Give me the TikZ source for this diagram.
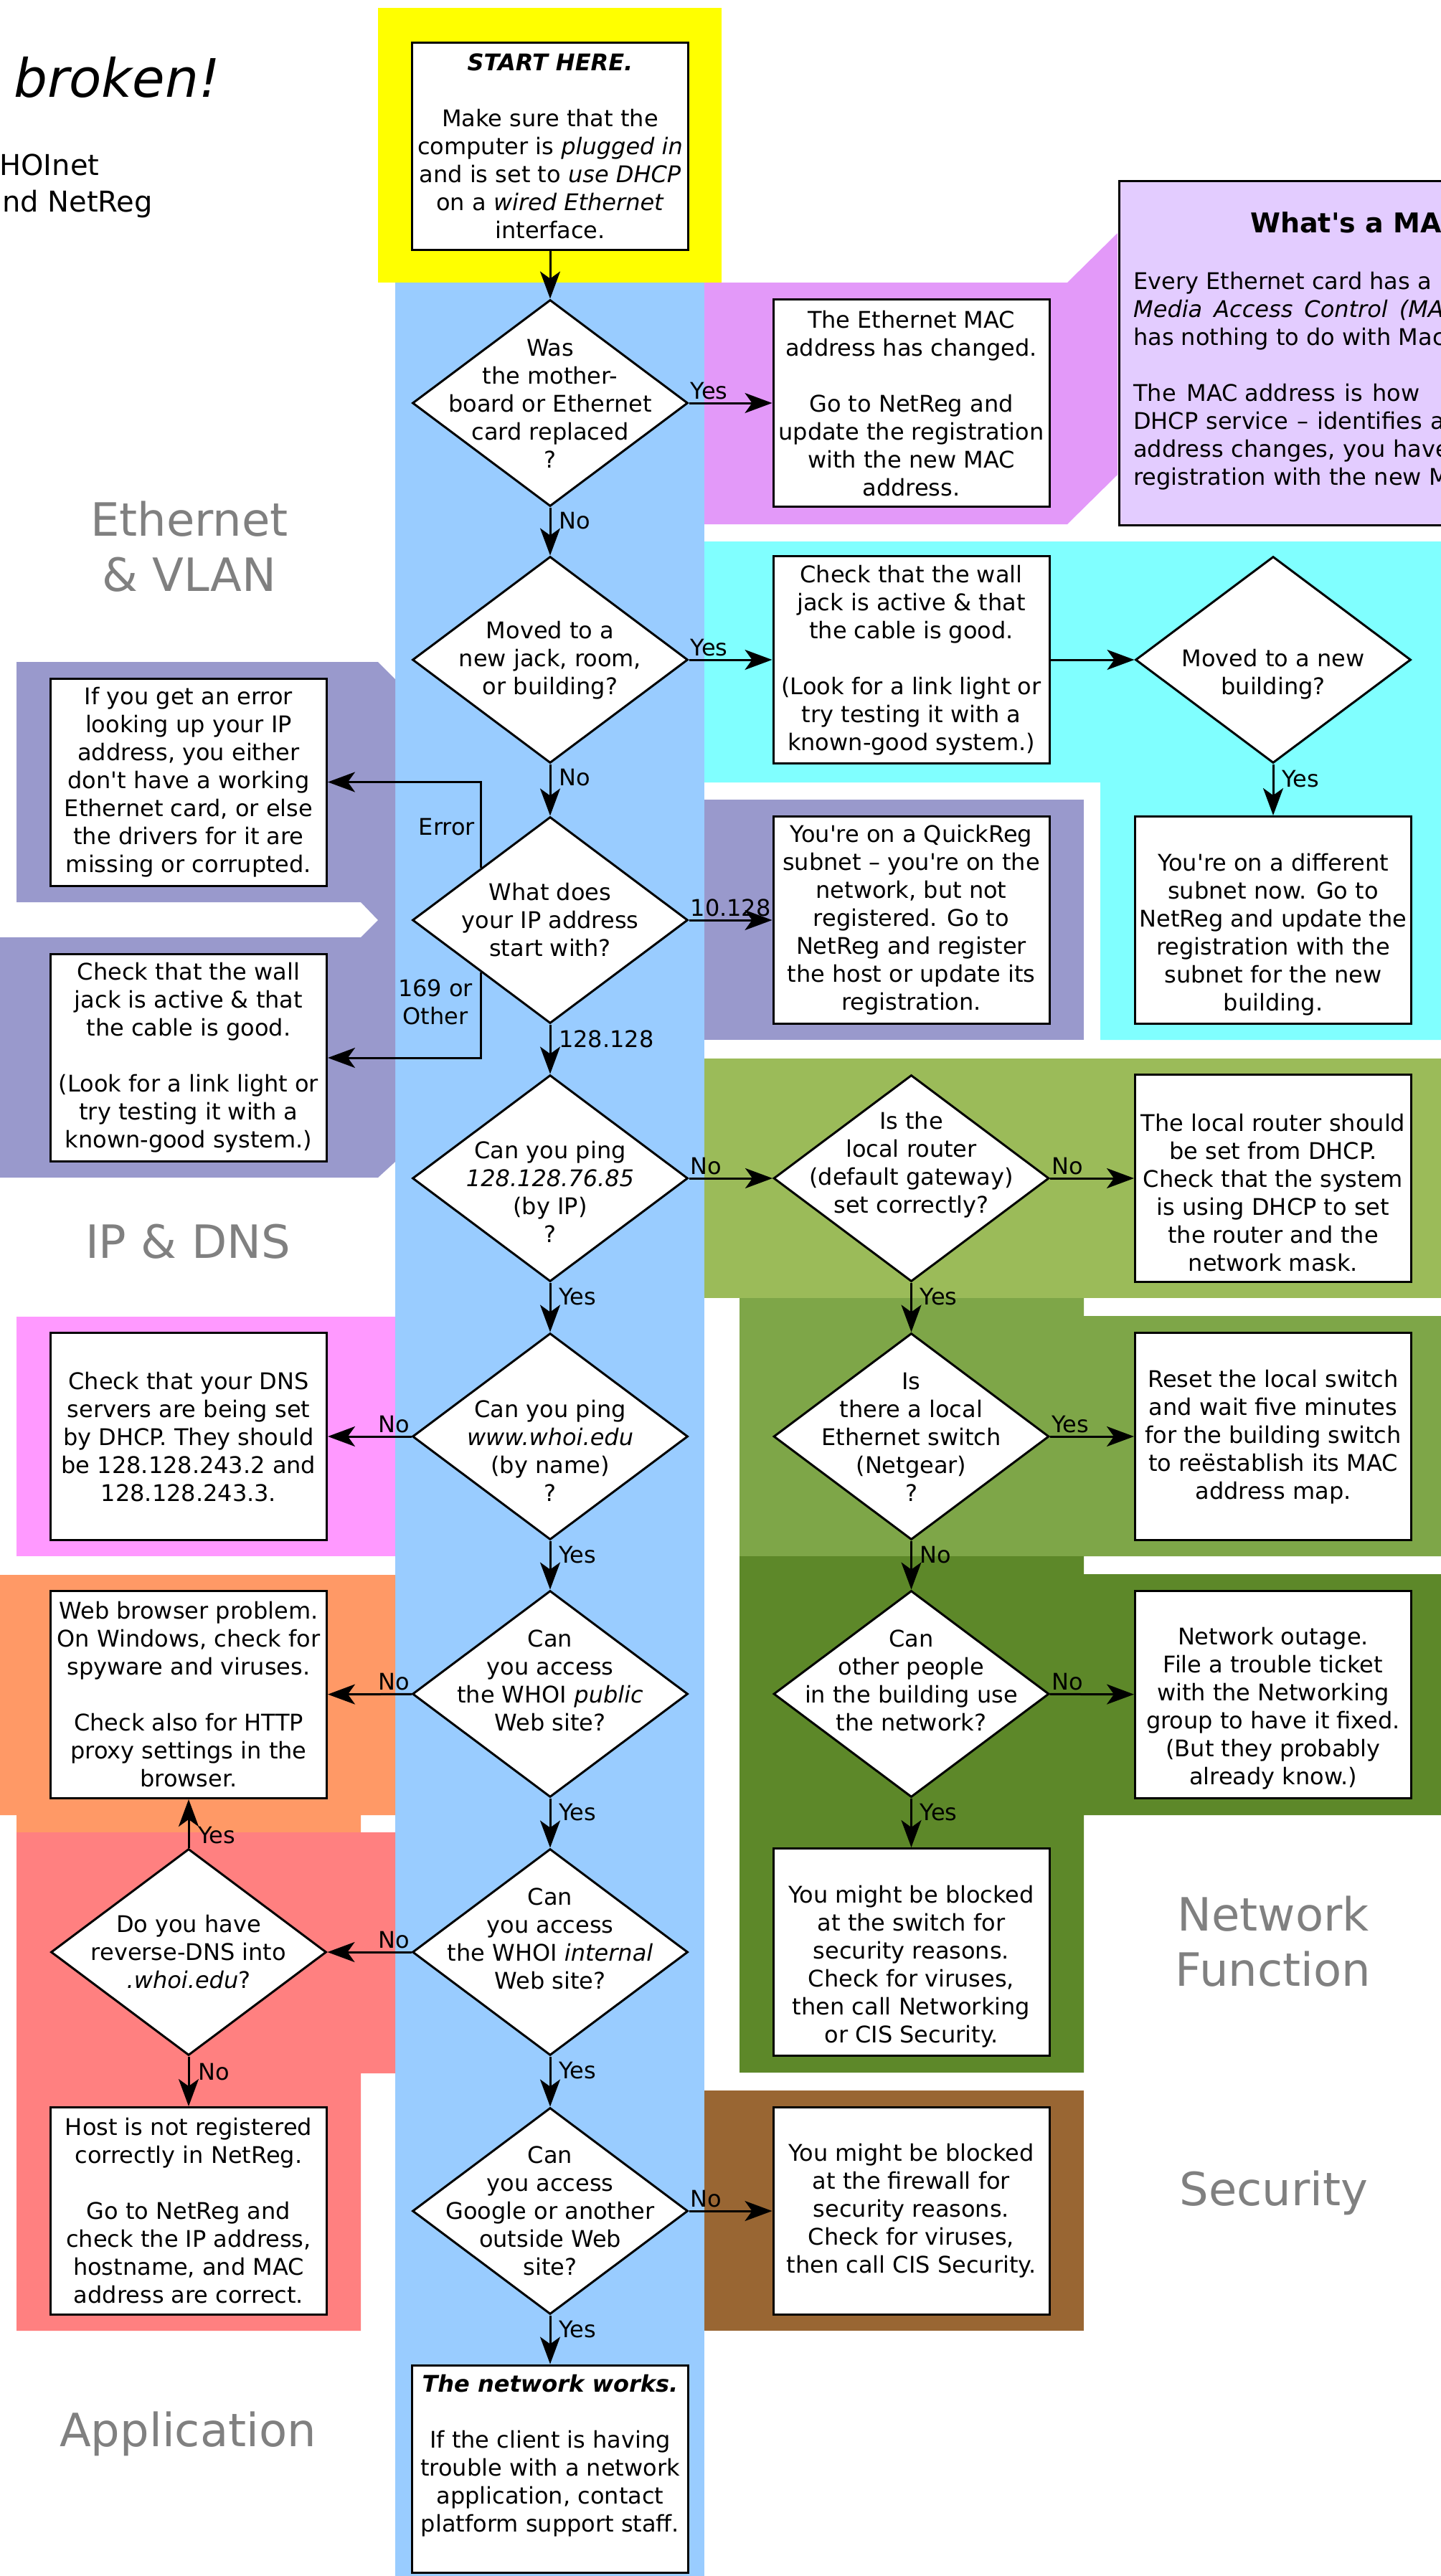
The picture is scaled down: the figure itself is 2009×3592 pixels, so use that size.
\documentclass[tikz,border=0pt]{standalone}
\usepackage{fontspec}
\setmainfont{DejaVu Sans}
\usetikzlibrary{shapes.geometric,arrows.meta,calc}
\definecolor{cYellow}{HTML}{FFFF00}
\definecolor{cBlue}{HTML}{99CCFF}
\definecolor{cMag}{HTML}{E399F9}
\definecolor{cLav}{HTML}{E3CCFF}
\definecolor{cCyan}{HTML}{80FFFF}
\definecolor{cPurp}{HTML}{9999CC}
\definecolor{cGreenA}{HTML}{9BBB59}
\definecolor{cGreenB}{HTML}{7EA648}
\definecolor{cGreenC}{HTML}{5D8829}
\definecolor{cBrown}{HTML}{996633}
\definecolor{cPink}{HTML}{FF99FF}
\definecolor{cOrange}{HTML}{FF9966}
\definecolor{cRed}{HTML}{FF8080}
\definecolor{secgray}{HTML}{808080}
\newcommand{\q}{\textquotesingle}
\begin{document}
\begin{tikzpicture}[x=1pt,y=-1pt,
  box/.style={draw, line width=3pt, fill=white, minimum width=385pt, minimum height=289pt, inner sep=0pt},
  dia/.style={diamond, draw, line width=3pt, fill=white, minimum width=384pt, minimum height=288pt, inner sep=0pt},
  txt/.style={align=center, inner sep=0pt, font=\fontsize{32}{39}\selectfont},
  lab/.style={inner sep=0pt, font=\fontsize{32}{39}\selectfont},
  arr/.style={line width=3pt, -{Stealth[length=38pt,width=28pt,inset=10pt]}},
  sect/.style={text=secgray, inner sep=0pt, anchor=base, font=\fontsize{64}{76}\selectfont}]
\useasboundingbox (0,0) rectangle (2009,3592);
\clip (0,0) rectangle (2009,3592);
% ---------- background bands ----------
\fill[cYellow] (527,11) rectangle (1006,394);
\fill[cBlue] (551,394) rectangle (982,3600);
\fill[cMag] (982,394) -- (1488,394) -- (1558,325) -- (1558,662) -- (1488,731) -- (982,731) -- cycle;
\fill[cCyan] (982,755) -- (2009,755) -- (2009,1450) -- (1534,1450) -- (1534,1091) -- (982,1091) -- cycle;
\fill[cPurp] (982,1115) rectangle (1511,1450);
\fill[cGreenA] (982,1476) rectangle (2009,1810);
\fill[cGreenB] (1031,1810) -- (1511,1810) -- (1511,1835) -- (2009,1835) -- (2009,2170) -- (1031,2170) -- cycle;
\fill[cGreenC] (1031,2170) -- (1511,2170) -- (1511,2195) -- (2009,2195) -- (2009,2531) -- (1511,2531) -- (1511,2890) -- (1031,2890) -- cycle;
\fill[cBrown] (982,2915) rectangle (1511,3250);
\fill[cPurp] (23,923) -- (527,923) -- (551,947) -- (551,1620) -- (527,1642) -- (0,1642) -- (0,1307) -- (503,1307) -- (527,1283) -- (503,1258) -- (23,1258) -- cycle;
\fill[cPink] (23,1836) rectangle (551,2170);
\fill[cOrange] (0,2196) -- (551,2196) -- (551,2531) -- (503,2531) -- (503,2555) -- (23,2555) -- (23,2531) -- (0,2531) -- cycle;
\fill[cRed] (23,2555) -- (551,2555) -- (551,2891) -- (503,2891) -- (503,3250) -- (23,3250) -- cycle;
% ---------- title fragments ----------
\node[inner sep=0pt, anchor=base west, font=\fontsize{74}{88}\selectfont\itshape] (title) at (19,135) {broken!};
\node[inner sep=0pt, anchor=base east, font=\fontsize{40}{50}\selectfont] (sub1) at (138.5,244) {WHOInet};
\node[inner sep=0pt, anchor=base east, font=\fontsize{40}{50}\selectfont] (sub2) at (213,295) {and NetReg};
% ---------- section labels ----------
\node[sect] (s1a) at (264,747) {Ethernet};
\node[sect] (s1b) at (264,824) {\& VLAN};
\node[sect] (s2) at (262,1754) {IP \& DNS};
\node[sect] (s3) at (262,3411) {Application};
\node[sect] (s4a) at (1775,2692) {Network};
\node[sect] (s4b) at (1775,2769) {Function};
\node[sect] (s5) at (1776,3075) {Security};
% ---------- MAC info box ----------
\node[draw, line width=3pt, fill=cLav, inner sep=0pt, minimum width=482pt, minimum height=480pt, anchor=north west] (macbox) at (1558.5,251) {};
\node[inner sep=0pt, anchor=base west, font=\fontsize{38}{46}\selectfont\bfseries] (mact) at (1743,324) {What\q s a MAC};
\node[lab, anchor=base west] (m1) at (1580,403) {Every Ethernet card has a};
\node[lab, anchor=base west] (m2) at (1580,442) {\textit{Media\hspace{16pt}Access\hspace{16pt}Control\hspace{16pt}(MA}};
\node[lab, anchor=base west] (m3) at (1580,481) {has nothing to do with Mac};
\node[lab, anchor=base west] (m4) at (1580,559) {The\hspace{15pt}MAC\hspace{10pt}address\hspace{13pt}is\hspace{13pt}how};
\node[lab, anchor=base west] (m5) at (1580,598) {DHCP\hspace{11pt}service\hspace{12pt}–\hspace{12pt}identifies\hspace{11pt}a};
\node[lab, anchor=base west] (m6) at (1580,637) {address\hspace{11pt}changes,\hspace{11pt}you\hspace{11pt}have};
\node[lab, anchor=base west] (m7) at (1580,676) {registration with the new M};
% ---------- main column ----------
\node[box] (start) at (767,203.5) {};
\node[txt] (tstart) at (767,203.5) {\textbf{\textit{START HERE.}}\\[39pt]Make sure that the\\computer is \textit{plugged in}\\and is set to \textit{use DHCP}\\on a \textit{wired Ethernet}\\interface.};
\node[dia] (d1) at (767,562) {};
\node[txt] (td1) at (767,563) {Was\\the mother-\\board or Ethernet\\card replaced\\?};
\node[dia] (d2) at (767,920) {};
\node[txt] (td2) at (767,921) {Moved to a\\new jack, room,\\or building?};
\node[dia] (d3) at (767,1283) {};
\node[txt] (td3) at (767,1283) {What does\\your IP address\\start with?};
\node[dia] (d4) at (767,1643) {};
\node[txt] (td4) at (767,1662) {Can you ping\\\textit{128.128.76.85}\\(by IP)\\?};
\node[dia] (d5) at (767,2003) {};
\node[txt] (td5) at (767,2023) {Can you ping\\\textit{www.whoi.edu}\\(by name)\\?};
\node[dia] (d6) at (767,2362) {};
\node[txt] (td6) at (767,2343) {Can\\you access\\the WHOI \textit{public}\\Web site?};
\node[dia] (d7) at (767,2722) {};
\node[txt] (td7) at (767,2703) {Can\\you access\\the WHOI \textit{internal}\\Web site?};
\node[dia] (d8) at (767,3083) {};
\node[txt] (td8) at (767,3083) {Can\\you access\\Google or another\\outside Web\\site?};
\node[box] (endb) at (767,3442.5) {};
\node[txt] (tend) at (767,3424) {\textbf{\textit{The network works.}}\\[39pt]If the client is having\\trouble with a network\\application, contact\\platform support staff.};
% ---------- second column ----------
\node[box] (eth) at (1270.5,562) {};
\node[txt] (teth) at (1270.5,563) {The Ethernet MAC\\address has changed.\\[39pt]Go to NetReg and\\update the registration\\with the new MAC\\address.};
\node[box] (wallR) at (1270.5,920) {};
\node[txt] (twallR) at (1270.5,921) {Check that the wall\\jack is active \& that\\the cable is good.\\[39pt](Look for a link light or\\try testing it with a\\known-good system.)};
\node[box] (qreg) at (1270.5,1283) {};
\node[txt] (tqreg) at (1270.5,1283) {You\q re on a QuickReg\\subnet – you\q re on the\\network, but not\\registered. Go to\\NetReg and register\\the host or update its\\registration.};
\node[dia] (rtrD) at (1270.5,1643) {};
\node[txt] (trtrD) at (1270.5,1624) {Is the\\local router\\(default gateway)\\set correctly?};
\node[dia] (swD) at (1270.5,2003) {};
\node[txt] (tswD) at (1270.5,2004) {Is\\there a local\\Ethernet switch\\(Netgear)\\?};
\node[dia] (pplD) at (1270.5,2362) {};
\node[txt] (tpplD) at (1270.5,2343) {Can\\other people\\in the building use\\the network?};
\node[box] (swblk) at (1270.5,2722) {};
\node[txt] (tswblk) at (1270.5,2742) {You might be blocked\\at the switch for\\security reasons.\\Check for viruses,\\then call Networking\\or CIS Security.};
\node[box] (fw) at (1270.5,3083) {};
\node[txt] (tfw) at (1270.5,3083) {You might be blocked\\at the firewall for\\security reasons.\\Check for viruses,\\then call CIS Security.};
% ---------- third column ----------
\node[dia] (bld) at (1775,920) {};
\node[txt] (tbld) at (1775,940) {Moved to a new\\building?};
\node[box] (diff) at (1775,1283) {};
\node[txt] (tdiff) at (1775,1303) {You\q re on a different\\subnet now. Go to\\NetReg and update the\\registration with the\\subnet for the new\\building.};
\node[box] (rtrB) at (1775,1643) {};
\node[txt] (trtrB) at (1775,1663) {The local router should\\be set from DHCP.\\Check that the system\\is using DHCP to set\\the router and the\\network mask.};
\node[box] (reset) at (1775,2003) {};
\node[txt] (treset) at (1775,2004) {Reset the local switch\\and wait five minutes\\for the building switch\\to reëstablish its MAC\\address map.};
\node[box] (outage) at (1775,2363) {};
\node[txt] (toutage) at (1775,2382) {Network outage.\\File a trouble ticket\\with the Networking\\group to have it fixed.\\(But they probably\\already know.)};
% ---------- left column ----------
\node[box] (err) at (263,1090.5) {};
\node[txt] (terr) at (263,1091) {If you get an error\\looking up your IP\\address, you either\\don\q t have a working\\Ethernet card, or else\\the drivers for it are\\missing or corrupted.};
\node[box] (wallL) at (263,1475) {};
\node[txt] (twallL) at (263,1475) {Check that the wall\\jack is active \& that\\the cable is good.\\[39pt](Look for a link light or\\try testing it with a\\known-good system.)};
\node[box] (dns) at (263,2003) {};
\node[txt] (tdns) at (263,2004) {Check that your DNS\\servers are being set\\by DHCP. They should\\be 128.128.243.2 and\\128.128.243.3.};
\node[box] (web) at (263,2363) {};
\node[txt] (tweb) at (263,2363) {Web browser problem.\\On Windows, check for\\spyware and viruses.\\[39pt]Check also for HTTP\\proxy settings in the\\browser.};
\node[dia] (rev) at (263,2722) {};
\node[txt] (trev) at (263,2722) {Do you have\\reverse-DNS into\\\textit{.whoi.edu}?};
\node[box] (host) at (263,3083) {};
\node[txt] (thost) at (263,3083) {Host is not registered\\correctly in NetReg.\\[39pt]Go to NetReg and\\check the IP address,\\hostname, and MAC\\address are correct.};
% ---------- connectors ----------
\draw[arr] (start) -- (d1);
\draw[arr] (d1) -- (eth);
\draw[arr] (d1) -- (d2);
\draw[arr] (d2) -- (wallR);
\draw[arr] (wallR) -- (bld);
\draw[arr] (bld) -- (diff);
\draw[arr] (d2) -- (d3);
\draw[arr] (d3) -- (qreg);
\draw[arr] (d3.north west) |- (err.east);
\draw[arr] (d3.south west) |- (wallL.east);
\draw[arr] (d3) -- (d4);
\draw[arr] (d4) -- (rtrD);
\draw[arr] (rtrD) -- (rtrB);
\draw[arr] (rtrD) -- (swD);
\draw[arr] (swD) -- (reset);
\draw[arr] (swD) -- (pplD);
\draw[arr] (pplD) -- (outage);
\draw[arr] (pplD) -- (swblk);
\draw[arr] (d4) -- (d5);
\draw[arr] (d5) -- (dns);
\draw[arr] (d5) -- (d6);
\draw[arr] (d6) -- (web);
\draw[arr] (d6) -- (d7);
\draw[arr] (d7) -- (rev);
\draw[arr] (rev) -- (web);
\draw[arr] (rev) -- (host);
\draw[arr] (d7) -- (d8);
\draw[arr] (d8) -- (fw);
\draw[arr] (d8) -- (endb);
% ---------- connector labels ----------
\node[lab, anchor=south west] (l1) at ($(d1.east)+(2,-5)$) {Yes};
\node[lab, anchor=north west] (l2) at ($(d1.south)+(12,6)$) {No};
\node[lab, anchor=south west] (l3) at ($(d2.east)+(2,-5)$) {Yes};
\node[lab, anchor=north west] (l4) at ($(bld.south)+(12,8)$) {Yes};
\node[lab, anchor=north west] (l5) at ($(d2.south)+(12,6)$) {No};
\node[lab, anchor=south west] (l6) at ($(d3.east)+(2,-5)$) {10.128};
\node[lab, anchor=east] (l7) at (662,1153) {Error};
\node[txt] (l8) at (607,1397) {169 or\\Other};
\node[lab, anchor=north west] (l9) at ($(d3.south)+(12,8)$) {128.128};
\node[lab, anchor=south west] (l10) at ($(d4.east)+(2,-5)$) {No};
\node[lab, anchor=south west] (l11) at ($(rtrD.east)+(2,-5)$) {No};
\node[lab, anchor=north west] (l12) at ($(rtrD.south)+(12,7)$) {Yes};
\node[lab, anchor=south west] (l13) at ($(swD.east)+(2,-5)$) {Yes};
\node[lab, anchor=north west] (l14) at ($(swD.south)+(12,7)$) {No};
\node[lab, anchor=south west] (l15) at ($(pplD.east)+(2,-5)$) {No};
\node[lab, anchor=north west] (l16) at ($(pplD.south)+(12,7)$) {Yes};
\node[lab, anchor=north west] (l17) at ($(d4.south)+(12,7)$) {Yes};
\node[lab, anchor=south east] (l18) at ($(d5.west)+(-2,-5)$) {No};
\node[lab, anchor=north west] (l19) at ($(d5.south)+(12,7)$) {Yes};
\node[lab, anchor=south east] (l20) at ($(d6.west)+(-2,-5)$) {No};
\node[lab, anchor=north west] (l21) at ($(d6.south)+(12,7)$) {Yes};
\node[lab, anchor=south east] (l22) at ($(d7.west)+(-2,-5)$) {No};
\node[lab, anchor=south west] (l23) at ($(rev.north)+(13,-5)$) {Yes};
\node[lab, anchor=north west] (l24) at ($(rev.south)+(13,9)$) {No};
\node[lab, anchor=north west] (l25) at ($(d7.south)+(12,7)$) {Yes};
\node[lab, anchor=south west] (l26) at ($(d8.east)+(2,-5)$) {No};
\node[lab, anchor=north west] (l27) at ($(d8.south)+(12,7)$) {Yes};
\end{tikzpicture}
\end{document}
